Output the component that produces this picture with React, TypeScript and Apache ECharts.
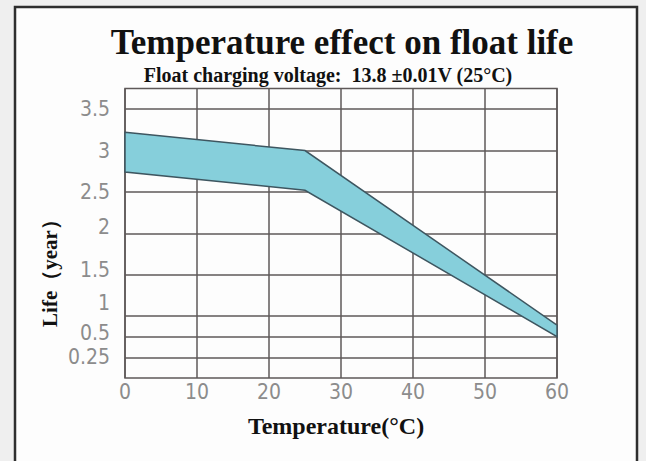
import React, { useEffect, useRef } from "react";
import * as echarts from "echarts";

// ---- data ----
const temps = [0, 25, 60];
const upperLife = [3.22, 3.0, 0.78];
const lowerLife = [2.74, 2.52, 0.5];
const xTicks = [0, 10, 20, 30, 40, 50, 60];
const yTickValues = [0.25, 0.5, 1, 1.5, 2, 2.5, 3, 3.5];
const yTickLabels = ["0.25", "0.5", "1", "1.5", "2", "2.5", "3", "3.5"];
// printed grid is non-linear: row index of each labelled value on the chart
const yTickRows = [1, 2, 3, 5, 7, 9, 11, 13];
const yRowMax = 14;

const titleText = "Temperature effect on float life";
const subtitleText = "Float charging voltage:  13.8 ±0.01V (25°C)";
const xName = "Temperature(°C)";
const yName = "Life（year）";

function lifeToRow(v: number): number {
  const vs = [0, ...yTickValues];
  const rs = [0, ...yTickRows];
  for (let i = 1; i < vs.length; i++) {
    if (v <= vs[i]) {
      const t = (v - vs[i - 1]) / (vs[i] - vs[i - 1]);
      return rs[i - 1] + t * (rs[i] - rs[i - 1]);
    }
  }
  const n = vs.length - 1;
  return rs[n] + ((v - vs[n]) / (vs[n] - vs[n - 1])) * (rs[n] - rs[n - 1]);
}

const serif = '"Liberation Serif", "Times New Roman", "DejaVu Serif", serif';
const labelFont = '"Liberation Sans Narrow", "DejaVu Sans Condensed", "DejaVu Sans", sans-serif';
const labelColor = "#8c8c8c";
const gridColor = "#5e5858";
const labelLift: Record<string, number> = { "1": 13, "2": 6, "1.5": 5, "0.5": 4 };

export default function App() {
  const ref = useRef<HTMLDivElement>(null);
  useEffect(() => {
    if (!ref.current) return;
    const chart = echarts.init(ref.current, null, { renderer: "svg" });
    const rich: Record<string, any> = {};
    Object.values(labelLift).forEach((l) => {
      rich["l" + l] = {
        fontSize: 21,
        fontFamily: labelFont,
        color: labelColor,
        padding: [0, 0, 2 * l, 0],
      };
    });
    chart.setOption({
      animation: false,
      backgroundColor: "#efefef",
      grid: {
        left: 125,
        right: 89,
        top: 88.5,
        bottom: 83,
        show: true,
        borderColor: gridColor,
        borderWidth: 1.5,
        backgroundColor: "transparent",
      },
      xAxis: {
        type: "value",
        min: xTicks[0],
        max: xTicks[xTicks.length - 1],
        interval: 10,
        axisLine: { show: false },
        axisTick: { show: false },
        splitLine: { show: true, lineStyle: { color: gridColor, width: 1.5 } },
        axisLabel: {
          margin: 3,
          fontSize: 21,
          fontFamily: labelFont,
          color: labelColor,
        },
      },
      yAxis: {
        type: "value",
        min: 0,
        max: yRowMax,
        interval: 1,
        axisLine: { show: false },
        axisTick: { show: false },
        splitLine: { show: false },
        axisLabel: {
          margin: 15,
          fontSize: 21,
          fontFamily: labelFont,
          color: labelColor,
          rich,
          formatter: (val: number) => {
            const r = Math.round(val);
            if (Math.abs(val - r) > 1e-6) return "";
            const i = yTickRows.indexOf(r);
            if (i < 0) return "";
            const lab = yTickLabels[i];
            const lift = labelLift[lab];
            return lift ? `{l${lift}|${lab}}` : lab;
          },
        },
      },
      graphic: [
        {
          type: "rect",
          z: -10,
          shape: { x: 15, y: 7, width: 622, height: 470 },
          style: { fill: "#fdfdfd", stroke: "#2e2e2e", lineWidth: 2.5 },
        },
        {
          type: "text",
          x: 342,
          y: 42,
          style: {
            text: titleText,
            fontSize: 35,
            fontWeight: "bold",
            fontFamily: serif,
            fill: "#111",
            align: "center",
            verticalAlign: "middle",
          },
        },
        {
          type: "text",
          x: 328,
          y: 75,
          style: {
            text: subtitleText,
            fontSize: 20,
            fontWeight: "bold",
            fontFamily: serif,
            fill: "#111",
            align: "center",
            verticalAlign: "middle",
          },
        },
        {
          type: "text",
          x: 336,
          y: 426,
          style: {
            text: xName,
            fontSize: 24,
            fontWeight: "bold",
            fontFamily: serif,
            fill: "#111",
            align: "center",
            verticalAlign: "middle",
          },
        },
        {
          type: "text",
          x: 50,
          y: 268,
          rotation: Math.PI / 2,
          style: {
            text: yName,
            fontSize: 21,
            fontWeight: "bold",
            fontFamily: serif,
            fill: "#111",
            align: "center",
            verticalAlign: "middle",
          },
        },
      ],
      series: [
        {
          type: "custom",
          z: 3,
          data: [[temps[0], lifeToRow(lowerLife[0])]],
          renderItem: (params: any, api: any) => {
            const top = temps.map((t, i) => api.coord([t, lifeToRow(upperLife[i])]));
            const bot = temps
              .map((t, i) => api.coord([t, lifeToRow(lowerLife[i])]))
              .reverse();
            return {
              type: "polygon",
              shape: { points: [...top, ...bot] },
              style: { fill: "#86cfdb", stroke: "#3e5660", lineWidth: 1.5 },
            };
          },
          markLine: {
            z: 1,
            silent: true,
            symbol: "none",
            label: { show: false },
            lineStyle: { type: "solid", color: gridColor, width: 1.5 },
            data: yTickRows.map((r) => ({ yAxis: r })),
          },
        },
      ],
    });
    return () => chart.dispose();
  }, []);
  return (
    <div
      ref={ref}
      style={{ position: "fixed", left: 0, top: 0, width: 646, height: 461 }}
    />
  );
}
